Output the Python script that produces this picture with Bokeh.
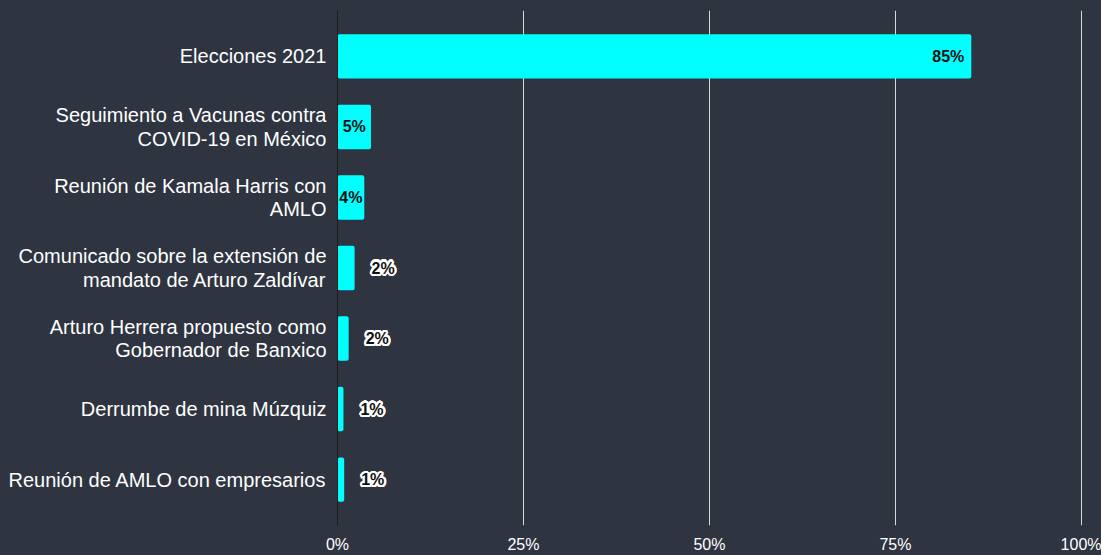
from bokeh.plotting import figure
from bokeh.models import FactorRange, Range1d, FixedTicker, PrintfTickFormatter, ColumnDataSource
from bokeh.core.properties import value
from bokeh.embed import file_html
from bokeh.resources import INLINE
import math

categories = [
    "Elecciones 2021",
    "Seguimiento a Vacunas contra\nCOVID-19 en México",
    "Reunión de Kamala Harris con\nAMLO",
    "Comunicado sobre la extensión de\nmandato de Arturo Zaldívar",
    "Arturo Herrera propuesto como\nGobernador de Banxico",
    "Derrumbe de mina Múzquiz",
    "Reunión de AMLO con empresarios",
]
values = [85.2, 4.5, 3.6, 2.3, 1.5, 0.8, 0.9]
labels = ["85%", "5%", "4%", "2%", "2%", "1%", "1%"]
x_ticks = [0, 25, 50, 75, 100]

BG = "#2e3440"
FONT = "Liberation Sans"

p = figure(
    width=1101, height=555,
    y_range=FactorRange(factors=list(reversed(categories)), range_padding=0.15, range_padding_units="absolute"),
    x_range=Range1d(0, 100.15),
    output_backend="svg", toolbar_location=None,
    min_border_left=337, min_border_right=19, min_border_top=10, min_border_bottom=28,
)
p.background_fill_color = BG
p.border_fill_color = BG
p.outline_line_color = None

p.hbar(y=categories, right=values, left=0, height=0.63, color="#00ffff", line_color=None, border_radius=2)

# axes
p.xaxis.ticker = FixedTicker(ticks=x_ticks)
p.xaxis.formatter = PrintfTickFormatter(format="%d%%")
p.xaxis.axis_line_color = None
p.xaxis.major_tick_line_color = None
p.xaxis.major_tick_out = 0
p.xaxis.major_tick_in = 0
p.xaxis.minor_tick_line_color = None
p.xaxis.major_label_text_color = "#ffffff"
p.xaxis.major_label_text_font = FONT
p.xaxis.major_label_text_font_size = "16px"
p.xaxis.major_label_standoff = 10

p.yaxis.axis_line_color = "#1c1c1c"
p.yaxis.axis_line_width = 1
p.yaxis.major_tick_line_color = None
p.yaxis.major_tick_out = 0
p.yaxis.major_tick_in = 0
p.yaxis.minor_tick_line_color = None
p.yaxis.major_label_text_color = "#ffffff"
p.yaxis.major_label_text_font = FONT
p.yaxis.major_label_text_font_size = "20px"
p.yaxis.major_label_text_line_height = 1.08
p.yaxis.major_label_standoff = 11

p.xgrid.ticker = FixedTicker(ticks=[t for t in x_ticks if t > 0])
p.xgrid.grid_line_color = "#d8d8d8"
p.xgrid.grid_line_width = 1
p.ygrid.grid_line_color = None

# bar labels
big = dict(y=[], x=[], t=[])
small = dict(y=[], x=[], t=[])
outside = dict(y=[], x=[], t=[])
for c, v, l in zip(categories, values, labels):
    if v >= 10:
        big["y"].append(c); big["x"].append(v); big["t"].append(l)
    elif v >= 3:
        small["y"].append(c); small["x"].append(v / 2); small["t"].append(l)
    else:
        outside["y"].append(c); outside["x"].append(v); outside["t"].append(l)

common = dict(text_font=value(FONT), text_font_size="16px", text_font_style="bold", text_baseline="middle")
p.text(x="x", y="y", text="t", source=ColumnDataSource(big), text_align="right", x_offset=-7,
       text_color="#111111", **common)
p.text(x="x", y="y", text="t", source=ColumnDataSource(small), text_align="center", x_offset=0,
       text_color="#111111", **common)
osrc = ColumnDataSource(outside)
for k in range(16):
    a = 2 * math.pi * k / 16
    p.text(x="x", y="y", text="t", source=osrc, text_align="left",
           x_offset=17 + 2.2 * math.cos(a), y_offset=2.2 * math.sin(a), text_color="#ffffff", **common)
p.text(x="x", y="y", text="t", source=osrc, text_align="left", x_offset=17,
       text_color="#111111", **common)

html = file_html(p, INLINE)
html = html.replace("</head>", "<style>html, body { background: %s !important; }</style></head>" % BG, 1)
open("out.html", "w").write(html)
